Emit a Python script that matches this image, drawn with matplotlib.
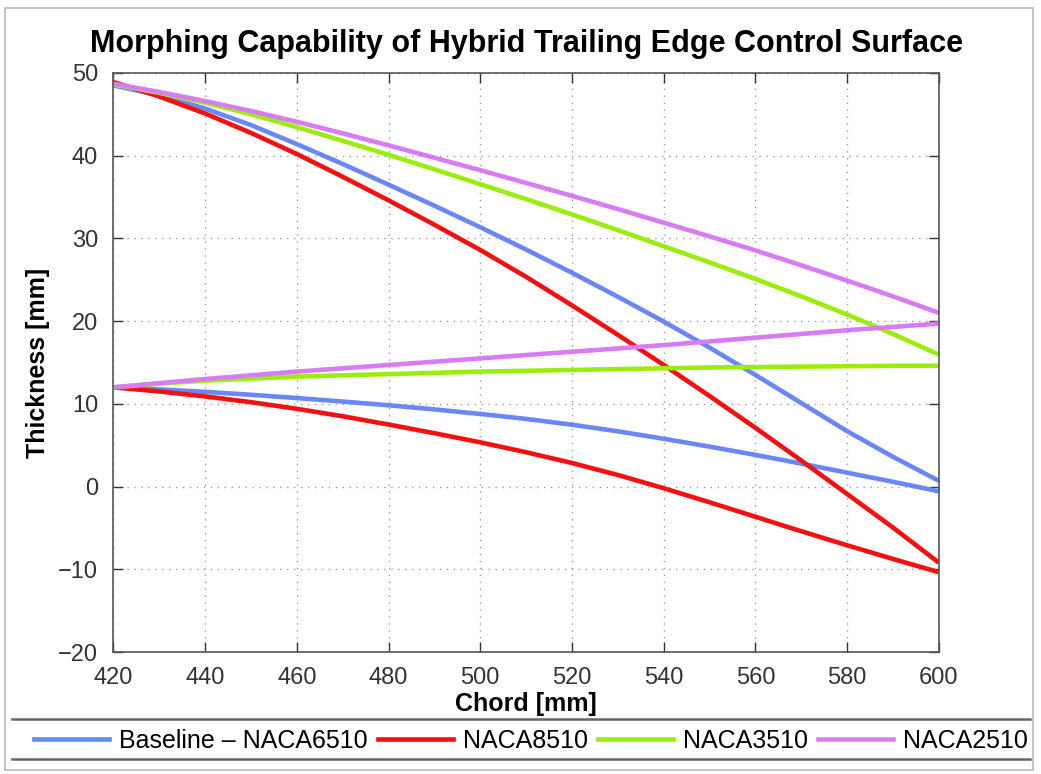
import matplotlib
matplotlib.use("Agg")
import matplotlib.pyplot as plt
from matplotlib.lines import Line2D
from matplotlib.patches import Rectangle

plt.rcParams['font.family'] = ['Liberation Sans', 'DejaVu Sans']

chord = [420, 430, 440, 450, 460, 470, 480, 490, 500, 510,
         520, 530, 540, 550, 560, 570, 580, 590, 600]

baseline_upper = [48.5, 47.3, 45.7, 43.7, 41.4, 39.0, 36.5, 33.95, 31.35, 28.65,
                  25.85, 22.95, 19.95, 16.8, 13.5, 10.1, 6.7, 3.6, 0.7]
baseline_lower = [12.0, 11.75, 11.45, 11.1, 10.7, 10.28, 9.83, 9.33, 8.78, 8.18,
                  7.48, 6.68, 5.78, 4.83, 3.83, 2.78, 1.68, 0.58, -0.57]
naca8510_upper = [48.9, 47.15, 45.1, 42.75, 40.2, 37.45, 34.6, 31.65, 28.6, 25.35,
                  21.9, 18.35, 14.7, 10.95, 7.1, 3.15, -0.9, -4.95, -9.2]
naca8510_lower = [12.0, 11.5, 10.9, 10.2, 9.4, 8.5, 7.5, 6.45, 5.35, 4.15,
                  2.85, 1.4, -0.2, -1.9, -3.65, -5.4, -7.1, -8.75, -10.35]
naca3510_upper = [48.6, 47.6, 46.4, 45.0, 43.45, 41.8, 40.1, 38.35, 36.55, 34.75,
                  32.9, 31.0, 29.05, 27.1, 25.1, 23.0, 20.8, 18.45, 15.95]
naca3510_lower = [12.0, 12.45, 12.8, 13.05, 13.3, 13.45, 13.6, 13.75, 13.9, 14.0,
                  14.1, 14.2, 14.3, 14.4, 14.45, 14.5, 14.55, 14.6, 14.6]
naca2510_upper = [48.7, 47.7, 46.6, 45.4, 44.1, 42.7, 41.25, 39.75, 38.25, 36.7,
                  35.15, 33.55, 31.9, 30.25, 28.55, 26.75, 24.9, 23.0, 21.0]
naca2510_lower = [12.0, 12.5, 13.0, 13.45, 13.9, 14.3, 14.7, 15.1, 15.5, 15.9,
                  16.3, 16.7, 17.1, 17.55, 18.0, 18.45, 18.9, 19.3, 19.7]

labels = ['Baseline \u2013 NACA6510', 'NACA8510', 'NACA3510', 'NACA2510']
colors = ['#6a87f7', '#f21010', '#9cec10', '#d87cf6']

series = [(baseline_upper, baseline_lower), (naca8510_upper, naca8510_lower),
          (naca3510_upper, naca3510_lower), (naca2510_upper, naca2510_lower)]

xticks = [420, 440, 460, 480, 500, 520, 540, 560, 580, 600]
yticks = [-20, -10, 0, 10, 20, 30, 40, 50]

fig = plt.figure(figsize=(10.41, 7.74), dpi=100)
ax = fig.add_axes([0.109, 0.1576, 0.7928, 0.7481])

for (up, lo), c in zip(series, colors):
    ax.plot(chord, up, color=c, lw=3.3, solid_capstyle='butt', solid_joinstyle='round')
    ax.plot(chord, lo, color=c, lw=3.3, solid_capstyle='butt', solid_joinstyle='round')

ax.set_xlim(420, 600)
ax.set_ylim(-20, 50)
ax.set_xticks(xticks)
ax.set_yticks(yticks)
ax.set_yticklabels([str(v).replace('-', '\u2212') for v in yticks])
ax.grid(True, linestyle=(0, (1, 4)), color='#9a9a9a', lw=1)
ax.tick_params(direction='in', length=7, width=1, top=True, right=True,
               labelsize=17, colors='#333333')
ax.tick_params(axis='x', pad=11)
ax.tick_params(axis='y', pad=11)
for sp in ax.spines.values():
    sp.set_color('#555555')
    sp.set_linewidth(1.2)

ax.set_xlabel('Chord [mm]', fontsize=18, fontweight='bold', labelpad=2)
ax.set_ylabel('Thickness [mm]', fontsize=18, fontweight='bold', labelpad=6)
ax.set_title('Morphing Capability of Hybrid Trailing Edge Control Surface',
             fontsize=22, fontweight='bold', pad=15)

handles = [Line2D([0], [0], color=c, lw=3.3) for c in colors]
fig.legend(handles, labels, loc='center', bbox_to_anchor=(0.51, 0.043),
           ncol=4, frameon=False, fontsize=18, handlelength=3.0,
           handletextpad=0.4, columnspacing=0.4)

fig.add_artist(Line2D([12/1041, 1030/1041], [1-719/774, 1-719/774],
                      color='#666666', lw=1.8, transform=fig.transFigure))
fig.add_artist(Line2D([12/1041, 1030/1041], [1-759/774, 1-759/774],
                      color='#666666', lw=1.8, transform=fig.transFigure))
fig.add_artist(Rectangle((5/1041, 1-770/774), 1028/1041, 762/774,
                         fill=False, edgecolor='#bbbbbb', lw=1.2,
                         transform=fig.transFigure))

fig.savefig('out.png', dpi=100)
